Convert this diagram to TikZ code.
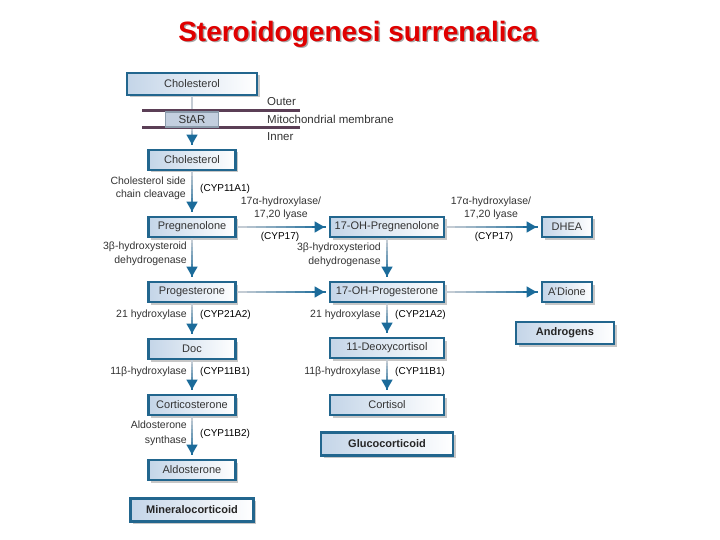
\documentclass[tikz,border=0pt]{standalone}
\usepackage{fontspec}
\setmainfont{Liberation Sans}
\usetikzlibrary{arrows.meta,calc,shadows}
\definecolor{arrblue}{HTML}{1B6B9A}
\definecolor{shaftgray}{HTML}{C4CCD4}
\definecolor{boxblue}{HTML}{22668E}
\definecolor{boxfill}{HTML}{C4D5E8}
\definecolor{txt}{HTML}{333333}
\definecolor{memb}{HTML}{5B3F56}
\definecolor{titlered}{HTML}{E00000}
\definecolor{starfill}{HTML}{C3CFDF}
\definecolor{starline}{HTML}{8A9AAA}

\tikzset{
  stepbox/.style={draw=boxblue, line width=2.6pt, left color=boxfill, right color=white,
    inner sep=0pt, minimum height=20pt, text=txt, font=\fontsize{11}{11}\selectfont,
    general shadow={shadow xshift=2.5pt, shadow yshift=-2.5pt, fill=black!22}},
  classbox/.style={stepbox, minimum height=23pt, line width=2.8pt,
    font=\fontsize{11}{11}\selectfont\bfseries, text=black!85},
  lab/.style={text=txt, font=\fontsize{10.5}{13}\selectfont, inner sep=0pt},
  cyp/.style={text=black, font=\fontsize{10}{12}\selectfont, inner sep=0pt},
  memline/.style={draw=memb, line width=3pt},
}

\newcommand{\flow}[2]{%
  \coordinate (fstart) at (#1);
  \coordinate (fend) at ($(#2)!4pt!(#1)$);
  \foreach \i in {0,...,8}{%
    \pgfmathsetmacro\pa{\i/9}%
    \pgfmathsetmacro\pb{(\i+1)/9+0.01}%
    \pgfmathtruncatemacro\pc{\i*12}%
    \draw[line width=2.5pt, arrblue!\pc!shaftgray] ($(fstart)!\pa!(fend)$) -- ($(fstart)!\pb!(fend)$);
  }
  \draw[arrblue, line width=2.5pt, -{Triangle[length=10pt,width=10.5pt]}] ($(fstart)!0.85!(fend)$) -- (fend);
}

\begin{document}
\begin{tikzpicture}[x=1pt,y=-1pt]
\useasboundingbox (0,0) rectangle (720,540);

% title
\node[text=black!35, font=\fontsize{28}{28}\selectfont\bfseries, inner sep=0pt] (titleshadow) at (359.5,35.5) {Steroidogenesi surrenalica};
\node[text=titlered, font=\fontsize{28}{28}\selectfont\bfseries, inner sep=0pt] (title) at (358,34) {Steroidogenesi surrenalica};

% top cholesterol and membrane
\node[stepbox, minimum width=130pt, minimum height=22pt] (chol1) at (192,84) {Cholesterol};
\node[stepbox, minimum width=87pt] (chol2) at (192,160) {Cholesterol};
\draw[shaftgray, line width=2.5pt] (chol1.south) -- (192,111);
\coordinate (outerL) at (142,111);
\coordinate (outerR) at (300,111);
\coordinate (innerL) at (142,128);
\coordinate (innerR) at (300,128);
\coordinate (innerA) at (192,129.5);
\draw[memline] (outerL) -- (outerR);
\draw[memline] (innerL) -- (innerR);
\node[draw=starline, line width=1.2pt, fill=starfill, minimum width=53pt, minimum height=15pt, inner sep=0pt,
  text=txt, font=\fontsize{11.5}{11.5}\selectfont] (star) at (192,119.5) {StAR};
\node[lab, anchor=west, font=\fontsize{11.5}{13}\selectfont] (outer) at (267,102) {Outer};
\node[lab, anchor=west, font=\fontsize{11.5}{13}\selectfont] (mito) at (267,119.5) {Mitochondrial membrane};
\node[lab, anchor=west, font=\fontsize{11.5}{13}\selectfont] (inner) at (267,137) {Inner};
\flow{innerA}{chol2.north}

% column 1
\node[stepbox, minimum width=87pt] (preg) at (192,227) {Pregnenolone};
\node[stepbox, minimum width=87pt] (prog) at (192,292) {Progesterone};
\node[stepbox, minimum width=87pt] (doc) at (192,349) {Doc};
\node[stepbox, minimum width=87pt] (cortico) at (192,405) {Corticosterone};
\node[stepbox, minimum width=87pt] (aldo) at (192,470) {Aldosterone};
\node[classbox, minimum width=123pt] (mineral) at (192,510) {Mineralocorticoid};

% column 2
\node[stepbox, minimum width=114pt] (ohpreg) at (387,227) {17-OH-Pregnenolone};
\node[stepbox, minimum width=114pt] (ohprog) at (387,292) {17-OH-Progesterone};
\node[stepbox, minimum width=114pt] (deoxy) at (387,348) {11-Deoxycortisol};
\node[stepbox, minimum width=114pt] (cortisol) at (387,405) {Cortisol};
\node[classbox, minimum width=132pt] (gluco) at (387,444) {Glucocorticoid};

% column 3
\node[stepbox, minimum width=50pt] (dhea) at (567,227) {DHEA};
\node[stepbox, minimum width=50pt] (adione) at (567,292) {A'Dione};
\node[classbox, minimum width=98pt, minimum height=22pt] (andro) at (565,333) {Androgens};

% arrows
\flow{chol2.south}{preg.north}
\flow{preg.south}{prog.north}
\flow{prog.south}{doc.north}
\flow{doc.south}{cortico.north}
\flow{cortico.south}{aldo.north}
\flow{ohpreg.south}{ohprog.north}
\flow{ohprog.south}{deoxy.north}
\flow{deoxy.south}{cortisol.north}
\flow{preg.east}{ohpreg.west}
\flow{prog.east}{ohprog.west}
\flow{ohpreg.east}{dhea.west}
\flow{ohprog.east}{adione.west}

% labels
\node[lab, anchor=east, align=right] (sidechain) at (186,188.5) {Cholesterol side\\chain cleavage};
\node[cyp, anchor=west] (cyp11a1) at (200,189) {(CYP11A1)};
\node[lab, align=center, font=\fontsize{10.5}{13.5}\selectfont] (lyase1) at (281,208.5) {17α-hydroxylase/\\17,20 lyase};
\node[cyp] (cyp17a) at (280,237) {(CYP17)};
\node[lab, align=center, font=\fontsize{10.5}{13.5}\selectfont] (lyase2) at (491,208.5) {17α-hydroxylase/\\17,20 lyase};
\node[cyp] (cyp17b) at (494,237) {(CYP17)};
\node[lab, anchor=east, align=right, font=\fontsize{10.5}{14}\selectfont] (hsd1) at (187,254) {3β-hydroxysteroid\\dehydrogenase};
\node[lab, anchor=east, align=right, font=\fontsize{10.5}{14}\selectfont] (hsd2) at (381,255) {3β-hydroxysteriod\\dehydrogenase};
\node[lab, anchor=east] (h21a) at (187,315) {21 hydroxylase};
\node[cyp, anchor=west] (cyp21a) at (200,315) {(CYP21A2)};
\node[lab, anchor=east] (h21b) at (381,315) {21 hydroxylase};
\node[cyp, anchor=west] (cyp21b) at (395,315) {(CYP21A2)};
\node[lab, anchor=east] (h11a) at (187,372) {11β-hydroxylase};
\node[cyp, anchor=west] (cyp11b1a) at (200,372) {(CYP11B1)};
\node[lab, anchor=east] (h11b) at (381,372) {11β-hydroxylase};
\node[cyp, anchor=west] (cyp11b1b) at (395,372) {(CYP11B1)};
\node[lab, anchor=east, align=right, font=\fontsize{10.5}{15}\selectfont] (aldosyn) at (187,433.5) {Aldosterone\\synthase};
\node[cyp, anchor=west] (cyp11b2) at (200,434) {(CYP11B2)};
\end{tikzpicture}
\end{document}
